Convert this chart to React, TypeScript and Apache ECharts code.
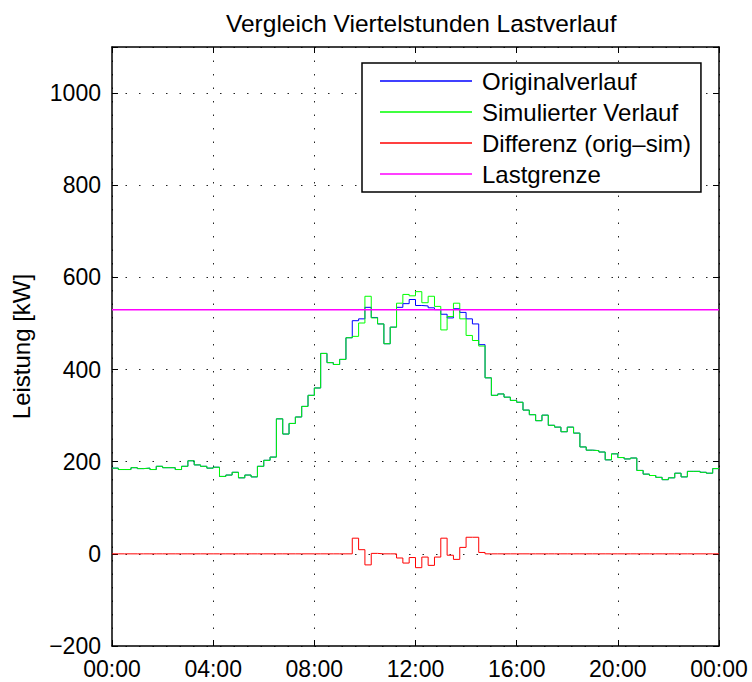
import React, { useEffect, useRef } from "react";
import * as echarts from "echarts";

const chartTitle = "Vergleich Viertelstunden Lastverlauf";
const yAxisTitle = "Leistung [kW]";
const seriesNames = ["Originalverlauf", "Simulierter Verlauf", "Differenz (orig–sim)", "Lastgrenze"];
const seriesColors = ["#0000ff", "#00ff00", "#ff0000", "#ff00ff"];
const xTickLabels = ["00:00", "04:00", "08:00", "12:00", "16:00", "20:00", "00:00"];
const yTickValues = [-200, 0, 200, 400, 600, 800, 1000];

// quarter-hour load values (kW), 00:00 ... 23:45
const original = [
  186, 183, 183, 187, 185, 186, 183, 190, 187, 187, 183, 190, 202, 193, 190, 186,
  188, 168, 171, 177, 165, 171, 167, 190, 203, 210, 293, 260, 283, 297, 320, 344,
  360, 435, 415, 411, 422, 469, 506, 510, 535, 513, 499, 456, 492, 535, 543, 552,
  539, 538, 534, 530, 520, 512, 532, 524, 510, 499, 454, 382, 344, 347, 340, 333,
  329, 312, 302, 289, 301, 279, 275, 265, 275, 262, 232, 225, 224, 221, 204, 217,
  209, 206, 208, 181, 173, 170, 166, 161, 165, 175, 167, 179, 179, 177, 175, 185,
];
const simulated = [
  186, 183, 183, 187, 185, 186, 183, 190, 187, 187, 183, 190, 202, 193, 190, 186,
  188, 168, 171, 177, 165, 171, 167, 190, 203, 210, 293, 260, 283, 297, 320, 344,
  360, 435, 415, 411, 422, 469, 472, 501, 559, 512, 499, 456, 492, 544, 563, 560,
  569, 545, 559, 537, 486, 515, 544, 510, 474, 463, 451, 382, 344, 347, 340, 333,
  329, 312, 302, 289, 301, 279, 275, 265, 275, 262, 232, 225, 224, 221, 204, 217,
  209, 206, 208, 181, 173, 170, 166, 161, 165, 175, 167, 179, 179, 177, 175, 185,
];
const loadLimit = 530;

const FONT = "'Liberation Sans', Arial, Helvetica, sans-serif";

function stairs(values: number[]): [number, number][] {
  const pts: [number, number][] = values.map((v, i) => [i * 0.25, v]);
  pts.push([24, values[values.length - 1]]);
  return pts;
}

export default function App() {
  const ref = useRef<HTMLDivElement>(null);

  useEffect(() => {
    if (!ref.current) return;
    const chart = echarts.init(ref.current, undefined, { renderer: "svg" });
    const difference = original.map((v, i) => v - simulated[i]);

    const gridDots = { color: "#222", width: 1, type: [1.5, 12] as any };
    const axisLine = { show: true, onZero: false, lineStyle: { color: "#000", width: 1.5 } };
    const axisTick = { show: true, inside: true, length: 6, lineStyle: { color: "#000", width: 1 } };

    const lineSeries = (idx: number, data: [number, number][], z: number, width = 1) => ({
      name: seriesNames[idx],
      type: "line",
      step: "end",
      data,
      symbol: "none",
      showSymbol: false,
      z,
      lineStyle: { color: seriesColors[idx], width },
      itemStyle: { color: seriesColors[idx] },
      emphasis: { disabled: true },
    });

    chart.setOption({
      animation: false,
      backgroundColor: "#fff",
      title: {
        text: chartTitle,
        left: 221,
        top: 6,
        textStyle: { fontFamily: FONT, fontSize: 24.5, fontWeight: "normal", color: "#000" },
      },
      legend: {
        data: seriesNames,
        orient: "vertical",
        left: 362,
        top: 63,
        padding: [6, 10, 6, 18],
        itemGap: 7,
        itemWidth: 92,
        itemHeight: 1.3,
        icon: "rect",
        selectedMode: false,
        backgroundColor: "#fff",
        borderColor: "#000",
        borderWidth: 1.5,
        borderRadius: 0,
        textStyle: { fontFamily: FONT, fontSize: 24, color: "#000", lineHeight: 24, padding: [0, 0, 0, 5] },
      },
      grid: { left: 112, top: 47, right: 33, bottom: 36, outerBoundsMode: "none", containLabel: false },
      xAxis: [
        {
          type: "value",
          min: 0,
          max: 24,
          interval: 4,
          position: "bottom",
          axisLine,
          axisTick,
          axisLabel: {
            fontFamily: FONT,
            fontSize: 23,
            color: "#000",
            margin: 11,
            formatter: (v: number) => xTickLabels[Math.round(v / 4)] ?? "",
          },
          splitLine: { show: true, lineStyle: gridDots },
        },
        {
          type: "value",
          min: 0,
          max: 24,
          interval: 4,
          position: "top",
          axisLine,
          axisTick,
          axisLabel: { show: false },
          splitLine: { show: false },
        },
      ],
      yAxis: [
        {
          type: "value",
          min: -200,
          max: 1100,
          interval: 200,
          position: "left",
          name: yAxisTitle,
          nameLocation: "middle",
          nameRotate: 90,
          nameGap: 79,
          nameTextStyle: { fontFamily: FONT, fontSize: 24, color: "#000" },
          axisLine,
          axisTick,
          axisLabel: {
            fontFamily: FONT,
            fontSize: 23,
            color: "#000",
            margin: 11,
            formatter: (v: number) =>
              yTickValues.includes(v) ? (v < 0 ? "−" + String(-v) : String(v)) : "",
          },
          splitLine: { show: true, lineStyle: gridDots },
        },
        {
          type: "value",
          min: -200,
          max: 1100,
          interval: 200,
          position: "right",
          axisLine,
          axisTick,
          axisLabel: { show: false },
          splitLine: { show: false },
        },
      ],
      series: [
        lineSeries(0, stairs(original), 2),
        lineSeries(1, stairs(simulated), 3),
        lineSeries(2, stairs(difference), 4),
        lineSeries(3, [[0, loadLimit], [24, loadLimit]], 5, 1.5),
      ],
    });

    return () => chart.dispose();
  }, []);

  return (
    <div
      ref={ref}
      style={{ position: "fixed", left: 0, top: 0, width: 752, height: 682, background: "#fff" }}
    />
  );
}
